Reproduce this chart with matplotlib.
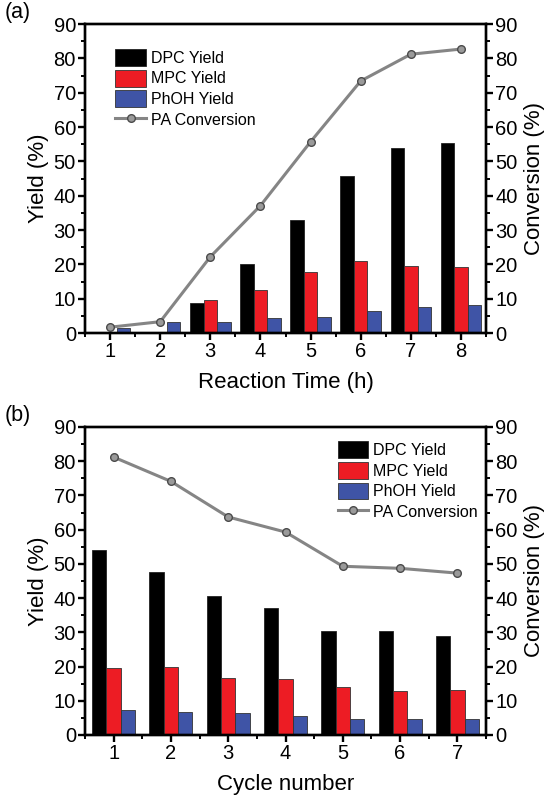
import matplotlib
matplotlib.use("Agg")
import matplotlib.pyplot as plt
import numpy as np
from matplotlib.ticker import MultipleLocator

plt.rcParams['font.family'] = ['Liberation Sans', 'DejaVu Sans']

# Panel (a) data
hours = [1, 2, 3, 4, 5, 6, 7, 8]
dpc_a = [0.0, 0.0, 8.8, 20.1, 32.9, 45.6, 53.9, 55.3]
mpc_a = [0.0, 0.0, 9.7, 12.5, 17.7, 21.0, 19.5, 19.3]
phoh_a = [1.5, 3.3, 3.1, 4.3, 4.8, 6.4, 7.5, 8.1]
conv_a = [1.7, 3.3, 22.2, 37.1, 55.7, 73.4, 81.2, 82.7]

# Panel (b) data
cycles = [1, 2, 3, 4, 5, 6, 7]
dpc_b = [54.0, 47.6, 40.5, 37.0, 30.3, 30.5, 28.9]
mpc_b = [19.6, 19.8, 16.6, 16.4, 14.0, 12.8, 13.1]
phoh_b = [7.4, 6.6, 6.3, 5.5, 4.8, 4.8, 4.8]
conv_b = [81.2, 74.1, 63.7, 59.3, 49.3, 48.7, 47.3]

labels = ['DPC Yield', 'MPC Yield', 'PhOH Yield', 'PA Conversion']
c_black = '#000000'
c_red = '#ED1C24'
c_blue = '#3F54A6'
c_line = '#858585'

fig = plt.figure(figsize=(5.47, 7.95), dpi=100)

def panel(rect, x, dpc, mpc, phoh, conv, bw, xlabel, tag, legend_pos):
    ax = fig.add_axes(rect)
    x = np.array(x, dtype=float)
    b1 = ax.bar(x - bw, dpc, bw, color=c_black, edgecolor='#222222', linewidth=0.6, label=labels[0])
    b2 = ax.bar(x, mpc, bw, color=c_red, edgecolor='#333333', linewidth=0.6, label=labels[1])
    b3 = ax.bar(x + bw, phoh, bw, color=c_blue, edgecolor='#333333', linewidth=0.6, label=labels[2])
    ax.set_xlim(x[0] - 0.5, x[-1] + 0.5)
    ax.set_ylim(0, 90)
    ax.set_xticks(x)
    ax.set_xticklabels([str(int(v)) for v in x])
    ax.xaxis.set_minor_locator(MultipleLocator(0.5))
    ax.yaxis.set_major_locator(MultipleLocator(10))
    ax.yaxis.set_minor_locator(MultipleLocator(5))
    ax2 = ax.twinx()
    ln, = ax2.plot(x, conv, '-o', color=c_line, linewidth=2.2, markersize=5.5,
                   markerfacecolor='#9A9A9A', markeredgecolor='#4A4A4A', markeredgewidth=1.0,
                   label=labels[3])
    ax2.set_ylim(0, 90)
    ax2.yaxis.set_major_locator(MultipleLocator(10))
    ax2.yaxis.set_minor_locator(MultipleLocator(5))
    for a in (ax, ax2):
        for s in a.spines.values():
            s.set_linewidth(1.7)
    ax.tick_params(axis='both', which='major', direction='out', length=5, width=1.7, labelsize=14.5, pad=1.5)
    ax.tick_params(axis='both', which='minor', direction='out', length=3, width=1.4)
    ax.tick_params(axis='x', which='both', top=False)
    ax2.tick_params(axis='y', which='major', direction='out', length=5, width=1.7, labelsize=14.5, pad=1.5)
    ax2.tick_params(axis='y', which='minor', direction='out', length=3, width=1.4)
    ax.set_ylabel('Yield (%)', fontsize=16, labelpad=3)
    ax2.set_ylabel('Conversion (%)', fontsize=16, labelpad=5)
    ax.set_xlabel(xlabel, fontsize=16, labelpad=8)
    fig.text(0.008, rect[1] + rect[3] + 0.001, tag, fontsize=15.5, va='bottom', ha='left')
    ax2.legend([b1, b2, b3, ln], labels, loc='upper left', bbox_to_anchor=legend_pos,
               frameon=False, fontsize=11.5, handlelength=1.9, handleheight=1.25,
               handletextpad=0.3, labelspacing=0.24, borderaxespad=0)
    return ax, ax2

panel([0.1554, 0.5811, 0.7331, 0.3887], hours, dpc_a, mpc_a, phoh_a, conv_a, 0.27,
      'Reaction Time (h)', '(a)', (0.06, 0.94))
panel([0.1554, 0.0755, 0.7331, 0.3874], cycles, dpc_b, mpc_b, phoh_b, conv_b, 0.25,
      'Cycle number', '(b)', (0.615, 0.975))

fig.savefig('out.png', dpi=100)
